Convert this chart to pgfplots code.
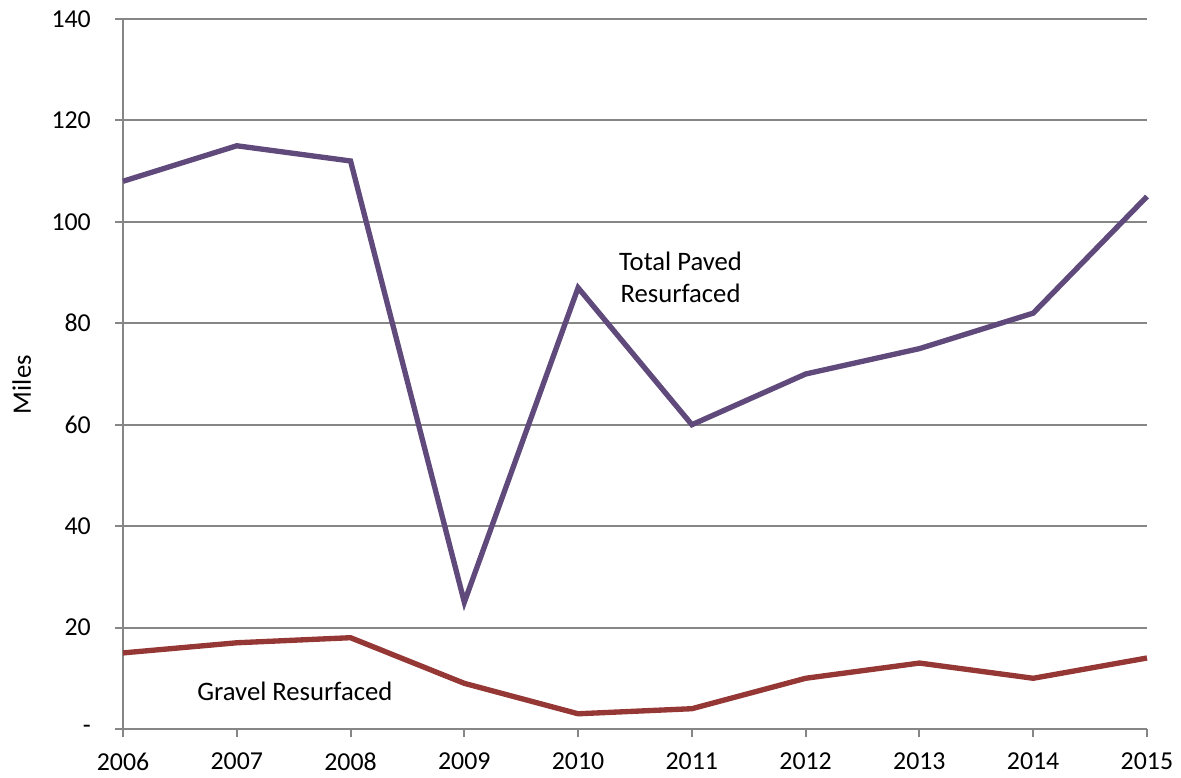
\documentclass[border=0pt]{standalone}
\usepackage{pgfplots}
\pgfplotsset{compat=1.18}
\usepackage{fontspec}
\setmainfont{Carlito}
\definecolor{paved}{HTML}{604A7B}
\definecolor{gravel}{HTML}{953735}
\definecolor{axgray}{HTML}{868686}
\begin{document}
\begin{tikzpicture}
\begin{axis}[
  scale only axis,
  width=614.4pt, height=426pt,
  xmin=2006, xmax=2015, ymin=0, ymax=140,
  axis x line*=bottom, axis y line*=left,
  axis line style={axgray, line width=1.2pt},
  xtick={2006,...,2015},
  xticklabels={2006,2007,2008,2009,2010,2011,2012,2013,2014,2015},
  ytick={0,20,...,140},
  yticklabels={-,20,40,60,80,100,120,140},
  tick align=outside,
  major tick length=4.8pt,
  tick style={axgray, line width=1.2pt},
  ymajorgrids,
  grid style={axgray, line width=1.2pt},
  ticklabel style={font=\fontsize{15.5}{18}\selectfont, text=black},
  /pgf/number format/assume math mode=true,
  xticklabel style={yshift=-6pt},
  yticklabel style={xshift=-11pt},
  ylabel={Miles},
  ylabel style={at={(axis description cs:-0.099,0.485)}, anchor=center, font=\fontsize{16}{19}\selectfont},
  clip=false,
]
\addplot[paved, line width=3.2pt] coordinates {
(2006,108) (2007,115) (2008,112) (2009,25) (2010,87) (2011,60) (2012,70) (2013,75) (2014,82) (2015,105)};
\addplot[gravel, line width=3.2pt] coordinates {
(2006,15) (2007,17) (2008,18) (2009,9) (2010,3) (2011,4) (2012,10) (2013,13) (2014,10) (2015,14)};
\node[align=center, font=\fontsize{16}{19}\selectfont] at (axis cs:2010.9,89.1) {Total Paved\\Resurfaced};
\node[font=\fontsize{16}{19}\selectfont] at (axis cs:2007.51,7.5) {Gravel Resurfaced};
\end{axis}
\pgfresetboundingbox
\path (current axis.north east) ++(20.4pt,11.4pt) coordinate (ne);
\path (current axis.south west) ++(-73.8pt,-29.4pt) rectangle (ne);
\end{tikzpicture}
\end{document}
